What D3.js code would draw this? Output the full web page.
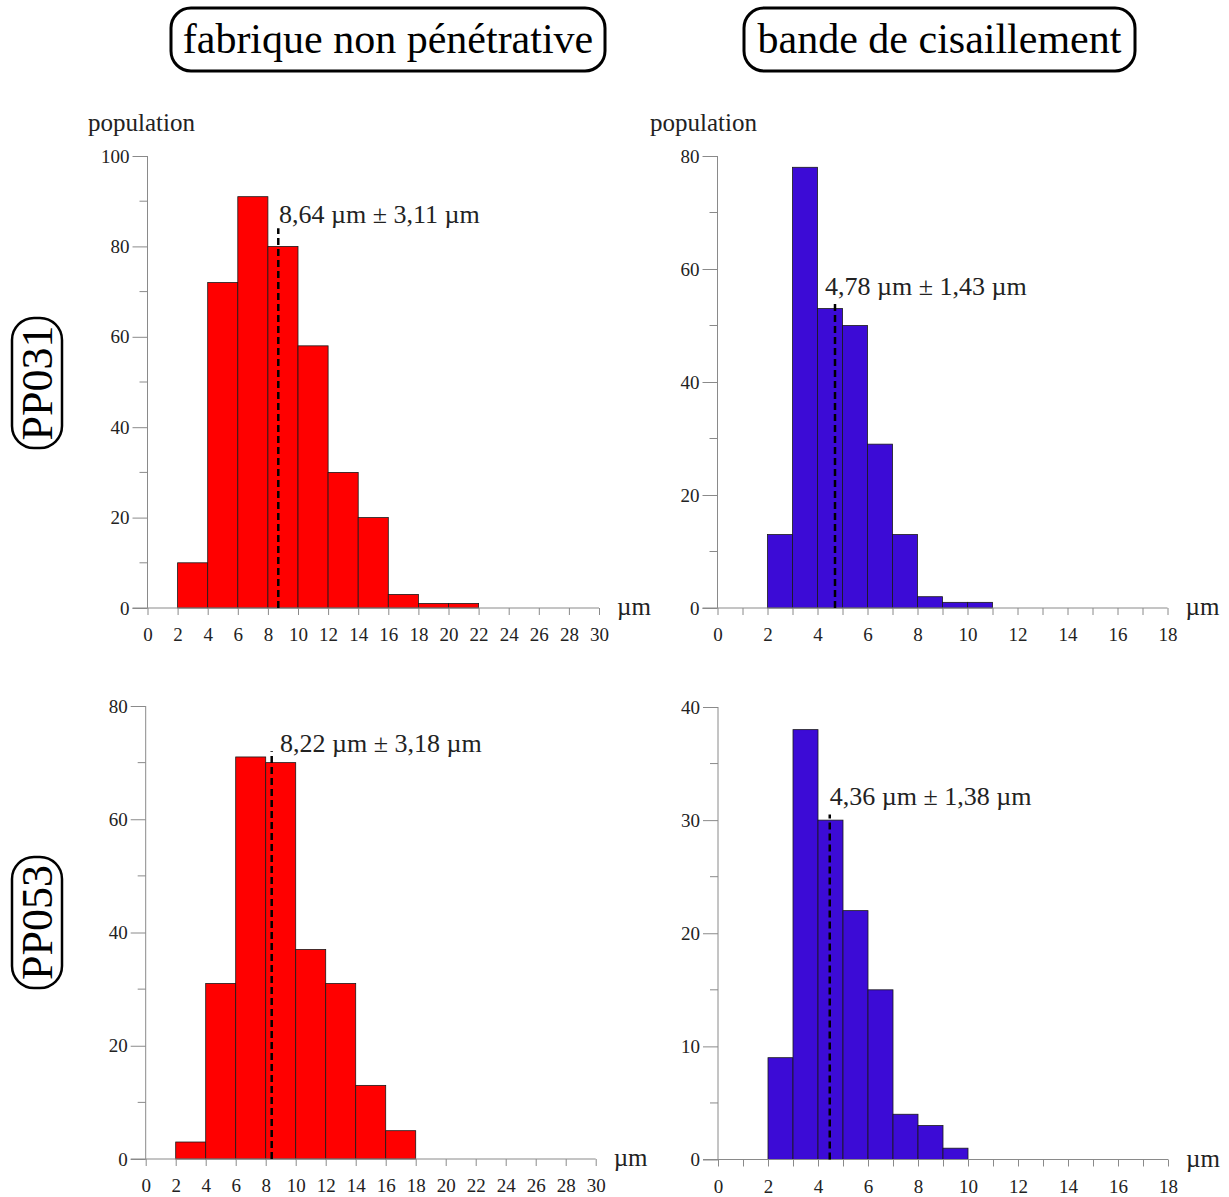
<!DOCTYPE html>
<html><head><meta charset="utf-8">
<script src="https://cdn.jsdelivr.net/npm/d3@7"></script>
<style>body{margin:0;background:#fff}svg{display:block}</style>
</head><body>
<script>
// ---- data ----
const columnTitles = ["fabrique non pénétrative", "bande de cisaillement"];
const rowTitles = ["PP031", "PP053"];
const binEdgesLeft = [2, 4, 6, 8, 10, 12, 14, 16, 18, 20, 22];
const binEdgesRight = [2, 3, 4, 5, 6, 7, 8, 9, 10, 11];
const countsPP031Fabric = [10, 72, 91, 80, 58, 30, 20, 3, 1, 1];
const countsPP031Band = [13, 78, 53, 50, 29, 13, 2, 1, 1];
const countsPP053Fabric = [3, 31, 71, 70, 37, 31, 13, 5];
const countsPP053Band = [9, 38, 30, 22, 15, 4, 3, 1];
const meanLabels = ["8,64 µm ± 3,11 µm", "4,78 µm ± 1,43 µm", "8,22 µm ± 3,18 µm", "4,36 µm ± 1,38 µm"];
const meanPositions = [8.69, 4.70, 8.40, 4.47];
const meanLineTops = [84, 54.3, 72, 30.5];
const xTicksLeft = [0,2,4,6,8,10,12,14,16,18,20,22,24,26,28,30];
const xTicksRight = [0,1,2,3,4,5,6,7,8,9,10,11,12,13,14,15,16,17,18];
const yMaxes = [100, 80, 80, 40];
const yMajorSteps = [20, 20, 20, 10];

const W = 1229, H = 1197;
const svg = d3.select("body").append("svg").attr("width", W).attr("height", H);
const FONT = "'Liberation Serif', 'Times New Roman', serif";

const panels = [
  {counts: countsPP031Fabric, edges: binEdgesLeft, xmax: 30, xt: xTicksLeft, labelEvery: 1, color: "#ff0000",
   px: [147.5, 599], py: [608, 156], lab: [8.74, 85.1], popX: 88},
  {counts: countsPP031Band, edges: binEdgesRight, xmax: 18, xt: xTicksRight, labelEvery: 2, color: "#3c0bd6",
   px: [717.5, 1167.5], py: [608, 156], lab: [4.3, 55.4], popX: 650},
  {counts: countsPP053Fabric, edges: binEdgesLeft, xmax: 30, xt: xTicksLeft, labelEvery: 1, color: "#ff0000",
   px: [145.7, 595.7], py: [1159, 706], lab: [8.95, 71.8]},
  {counts: countsPP053Band, edges: binEdgesRight, xmax: 18, xt: xTicksRight, labelEvery: 2, color: "#3c0bd6",
   px: [718, 1168], py: [1159.5, 707], lab: [4.47, 31.3]}
];

const axisColor = "#8a8a8a";
panels.forEach((p, i) => {
  const x = d3.scaleLinear().domain([0, p.xmax]).range(p.px);
  const y = d3.scaleLinear().domain([0, yMaxes[i]]).range(p.py);
  const g = svg.append("g");

  // bars
  g.selectAll("rect.bar").data(p.counts).join("rect")
    .attr("x", (d, j) => x(p.edges[j]))
    .attr("width", (d, j) => x(p.edges[j + 1]) - x(p.edges[j]))
    .attr("y", d => y(d))
    .attr("height", d => y(0) - y(d))
    .attr("fill", p.color)
    .attr("stroke", "#1a1a1a").attr("stroke-width", 0.8);

  // y axis
  const step = yMajorSteps[i];
  const majors = d3.range(0, yMaxes[i] + 0.001, step);
  const minors = d3.range(step / 2, yMaxes[i], step);
  const yAxis = d3.axisLeft(y).tickValues(majors).tickSize(15).tickPadding(3).tickFormat(d3.format("d"));
  const ya = g.append("g").attr("transform", `translate(${p.px[0]},0)`).call(yAxis);
  ya.select(".domain").attr("stroke", axisColor).attr("d", `M0,${y(0)}V${y(yMaxes[i])}`);
  ya.selectAll(".tick line").attr("stroke", axisColor);
  ya.selectAll(".tick text").attr("font-family", FONT).attr("font-size", 19).attr("fill", "#222");
  ya.selectAll("line.minor").data(minors).join("line").attr("class", "minor")
    .attr("x1", -8).attr("x2", 0).attr("y1", d => y(d)).attr("y2", d => y(d)).attr("stroke", axisColor);

  // x axis
  const xAxis = d3.axisBottom(x).tickValues(p.xt).tickSize(7).tickPadding(13)
    .tickFormat(d => (d % (p.labelEvery === 2 ? 2 : 1) === 0) ? d : "");
  const xa = g.append("g").attr("transform", `translate(0,${y(0)})`).call(xAxis);
  xa.select(".domain").attr("stroke", axisColor).attr("d", `M${p.px[0] - 15},0H${p.px[1]}`);
  xa.selectAll(".tick line").attr("stroke", axisColor);
  xa.selectAll(".tick text").attr("font-family", FONT).attr("font-size", 19).attr("fill", "#222");

  // unit label
  g.append("text").attr("x", p.px[1] + 18).attr("y", y(0) + 7)
    .attr("font-family", FONT).attr("font-size", 25).attr("fill", "#222").text("µm");

  // mean dashed line
  g.append("line").attr("x1", x(meanPositions[i])).attr("x2", x(meanPositions[i]))
    .attr("y1", y(0)).attr("y2", y(meanLineTops[i]))
    .attr("stroke", "#000").attr("stroke-width", 2.5).attr("stroke-dasharray", "7,4");
  g.append("text").attr("x", x(p.lab[0])).attr("y", y(p.lab[1]))
    .attr("font-family", FONT).attr("font-size", 26).attr("fill", "#222").text(meanLabels[i]);

  if (i < 2) {
    g.append("text").attr("x", p.popX).attr("y", 131)
      .attr("font-family", FONT).attr("font-size", 25).attr("fill", "#222").text("population");
  }
});

// column titles in rounded boxes
const colBoxes = [[171, 605], [744, 1135]];
colBoxes.forEach((b, i) => {
  svg.append("rect").attr("x", b[0]).attr("y", 8).attr("width", b[1] - b[0]).attr("height", 63)
    .attr("rx", 20).attr("fill", "none").attr("stroke", "#000").attr("stroke-width", 3);
  svg.append("text").attr("x", (b[0] + b[1]) / 2).attr("y", 53).attr("text-anchor", "middle")
    .attr("font-family", FONT).attr("font-size", 42).attr("fill", "#000").text(columnTitles[i]);
});

// row titles
const rowBoxes = [[318, 448], [857, 988]];
rowBoxes.forEach((b, i) => {
  svg.append("rect").attr("x", 12).attr("y", b[0]).attr("width", 50).attr("height", b[1] - b[0])
    .attr("rx", 22).attr("fill", "none").attr("stroke", "#000").attr("stroke-width", 2.5);
  const cx = 37, cy = (b[0] + b[1]) / 2;
  svg.append("text").attr("transform", `translate(${cx + 15},${cy}) rotate(-90)`).attr("text-anchor", "middle")
    .attr("font-family", FONT).attr("font-size", 44).attr("fill", "#000").text(rowTitles[i]);
});
</script>
</body></html>
